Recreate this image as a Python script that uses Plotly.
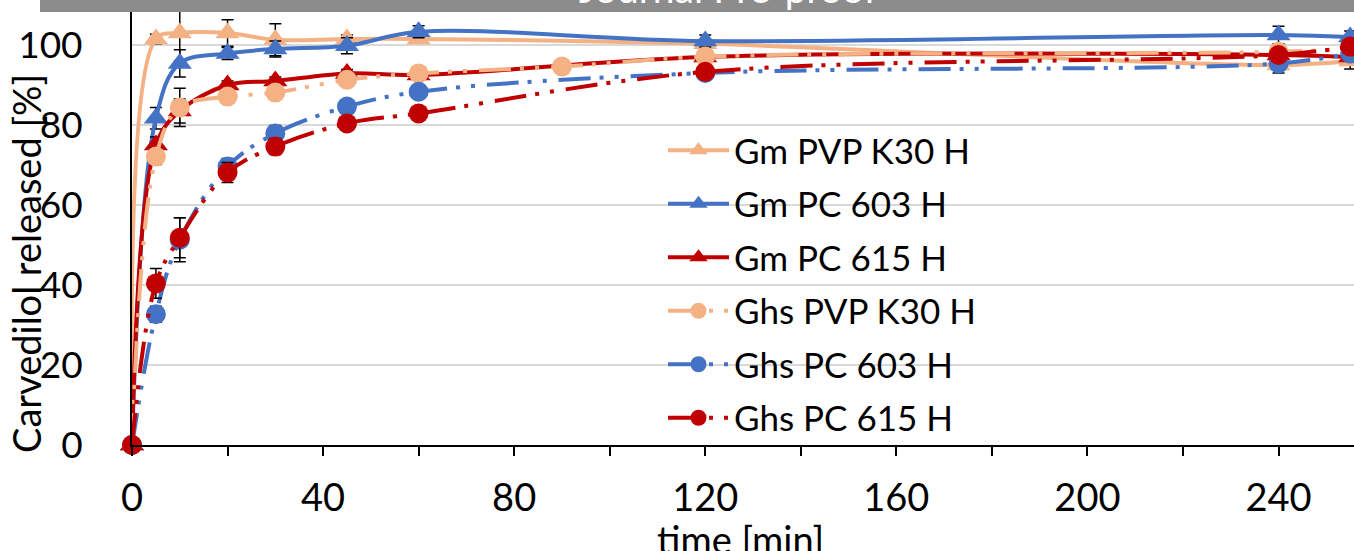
import plotly.graph_objects as go

# Dissolution profiles: carvedilol released [%] vs time [min], mean ± SD
series_names = [
    "Gm PVP K30 H", "Gm PC 603 H", "Gm PC 615 H",
    "Ghs PVP K30 H", "Ghs PC 603 H", "Ghs PC 615 H",
]

t_gm = [0, 5, 10, 20, 30, 45, 60, 120, 240, 255]
t_ghs_pvp = [0, 5, 10, 20, 30, 45, 60, 90, 120, 240, 255]
t_ghs_pc = [0, 5, 10, 20, 30, 45, 60, 120, 240, 255]

gm_pvp_k30 = [0, 101.5, 103.0, 103.0, 101.3, 101.5, 101.5, 100.3, 95.0, 96.0]
gm_pc603 = [0, 81.7, 95.4, 97.9, 99.0, 99.8, 103.3, 101.0, 102.5, 102.0]
gm_pc615 = [0, 75.0, 83.5, 90.0, 91.0, 92.9, 92.5, 97.0, 97.5, 97.0]
ghs_pvp_k30 = [0, 72.1, 84.4, 87.1, 88.1, 91.3, 92.9, 94.6, 97.1, 98.3, 99.0]
ghs_pc603 = [0, 32.7, 51.3, 69.6, 77.9, 84.6, 88.3, 93.0, 95.4, 97.9]
ghs_pc615 = [0, 40.4, 51.8, 68.1, 74.6, 80.4, 82.9, 93.3, 97.5, 99.6]

sd_gm_pvp_k30 = [0, 1.2, 7.0, 3.3, 4.0, 1.0, 1.0, 1.0, 2.0, 2.0]
sd_gm_pc603 = [0, 2.7, 3.4, 1.5, 2.0, 2.0, 1.5, 1.5, 2.2, 1.5]
sd_gm_pc615 = [0, 2.0, 3.0, 1.0, 1.0, 1.0, 1.0, 1.0, 1.0, 1.0]
sd_ghs_pvp_k30 = [0, 2.0, 4.8, 1.0, 1.0, 1.0, 1.0, 1.0, 1.0, 1.0, 1.0]
sd_ghs_pc603 = [0, 2.0, 5.5, 2.0, 2.0, 1.5, 1.5, 1.5, 1.5, 1.5]
sd_ghs_pc615 = [0, 3.7, 5.0, 2.5, 2.0, 1.5, 1.5, 1.5, 1.5, 1.5]

x_ticks = [0, 40, 80, 120, 160, 200, 240]
y_ticks = [0, 20, 40, 60, 80, 100]

ORANGE = "#F4B183"
BLUE = "#4472C4"
RED = "#C00000"
FONT = "Lato, 'Open Sans', sans-serif"
LONGDASHDOTDOT = "32px,9px,4px,11px,4px,12px"

# plot-area geometry in pixels (used to place paper-referenced items)
PL, PW, PH = 132, 1222, 445


def px_x(p):
    return (p - PL) / PW


def px_y(p):
    return 1 - p / PH


traces = [
    (series_names[0], t_gm, gm_pvp_k30, sd_gm_pvp_k30, ORANGE, "triangle-up", "solid"),
    (series_names[1], t_gm, gm_pc603, sd_gm_pc603, BLUE, "triangle-up", "solid"),
    (series_names[2], t_gm, gm_pc615, sd_gm_pc615, RED, "triangle-up", "solid"),
    (series_names[3], t_ghs_pvp, ghs_pvp_k30, sd_ghs_pvp_k30, ORANGE, "circle", LONGDASHDOTDOT),
    (series_names[4], t_ghs_pc, ghs_pc603, sd_ghs_pc603, BLUE, "circle", LONGDASHDOTDOT),
    (series_names[5], t_ghs_pc, ghs_pc615, sd_ghs_pc615, RED, "circle", LONGDASHDOTDOT),
]

fig = go.Figure()
for i, (name, t, y, sd, color, symbol, dash) in enumerate(traces):
    fig.add_trace(go.Scatter(
        x=t, y=y, name=name, mode="lines+markers",
        line=dict(color=color, width=4, shape="spline", smoothing=1.0, dash=dash),
        marker=dict(symbol=symbol, size=20 if symbol == "circle" else 21, color=color,
                    line=dict(width=0)),
        error_y=dict(type="data", array=sd, visible=True, color="black",
                     thickness=1.5, width=6),
        cliponaxis=False,
        legendgroup=str(i),
    ))

fig.update_layout(
    width=1354, height=551,
    margin=dict(l=PL, r=0, t=0, b=551 - PH),
    paper_bgcolor="white", plot_bgcolor="white",
    font=dict(family=FONT, size=38, color="black"),
    showlegend=True,
    legend=dict(x=px_x(663), y=px_y(121), xanchor="left", yanchor="top",
                bgcolor="rgba(0,0,0,0)", font=dict(size=35, family=FONT),
                tracegroupgap=5, itemwidth=61, itemsizing="trace"),
    xaxis=dict(
        range=[0, 255.8], tickmode="array", tickvals=x_ticks,
        ticks="outside", ticklen=9, tickwidth=2, tickcolor="black",
        minor=dict(dtick=20, tick0=0, ticks="outside", ticklen=9, tickwidth=2,
                   tickcolor="black", showgrid=False),
        showline=True, linecolor="black", linewidth=2,
        showgrid=False, zeroline=False,
        ticklabelstandoff=9,
        tickfont=dict(size=38),
    ),
    yaxis=dict(
        range=[0, 111.25], tickmode="array", tickvals=y_ticks,
        showline=True, linecolor="black", linewidth=2,
        showgrid=True, gridcolor="#D9D9D9", gridwidth=1.5,
        zeroline=False, ticks="",
        ticklabelstandoff=40,
        tickfont=dict(size=37),
    ),
)

# axis titles
fig.add_annotation(text="time [min]", xref="paper", yref="paper",
                   x=px_x(740), y=px_y(539), xanchor="center", yanchor="middle",
                   showarrow=False, font=dict(size=38, family=FONT))
fig.add_annotation(text="Carvedilol released [%]", xref="paper", yref="paper",
                   x=px_x(26), y=px_y(264), xanchor="center", yanchor="middle",
                   textangle=-90, showarrow=False, font=dict(size=38, family=FONT))

# Journal banner across the top edge
fig.add_shape(type="rect", xref="paper", yref="paper",
              x0=px_x(40), x1=1.0, y0=px_y(12), y1=1.1,
              fillcolor="#8C8C8C", line=dict(width=0), layer="above")
fig.add_annotation(text="Journal Pre-proof", xref="paper", yref="paper",
                   x=px_x(728), y=px_y(13), xanchor="center", yanchor="bottom",
                   showarrow=False, font=dict(color="white", size=39, family=FONT))

fig.write_html("out.html")
